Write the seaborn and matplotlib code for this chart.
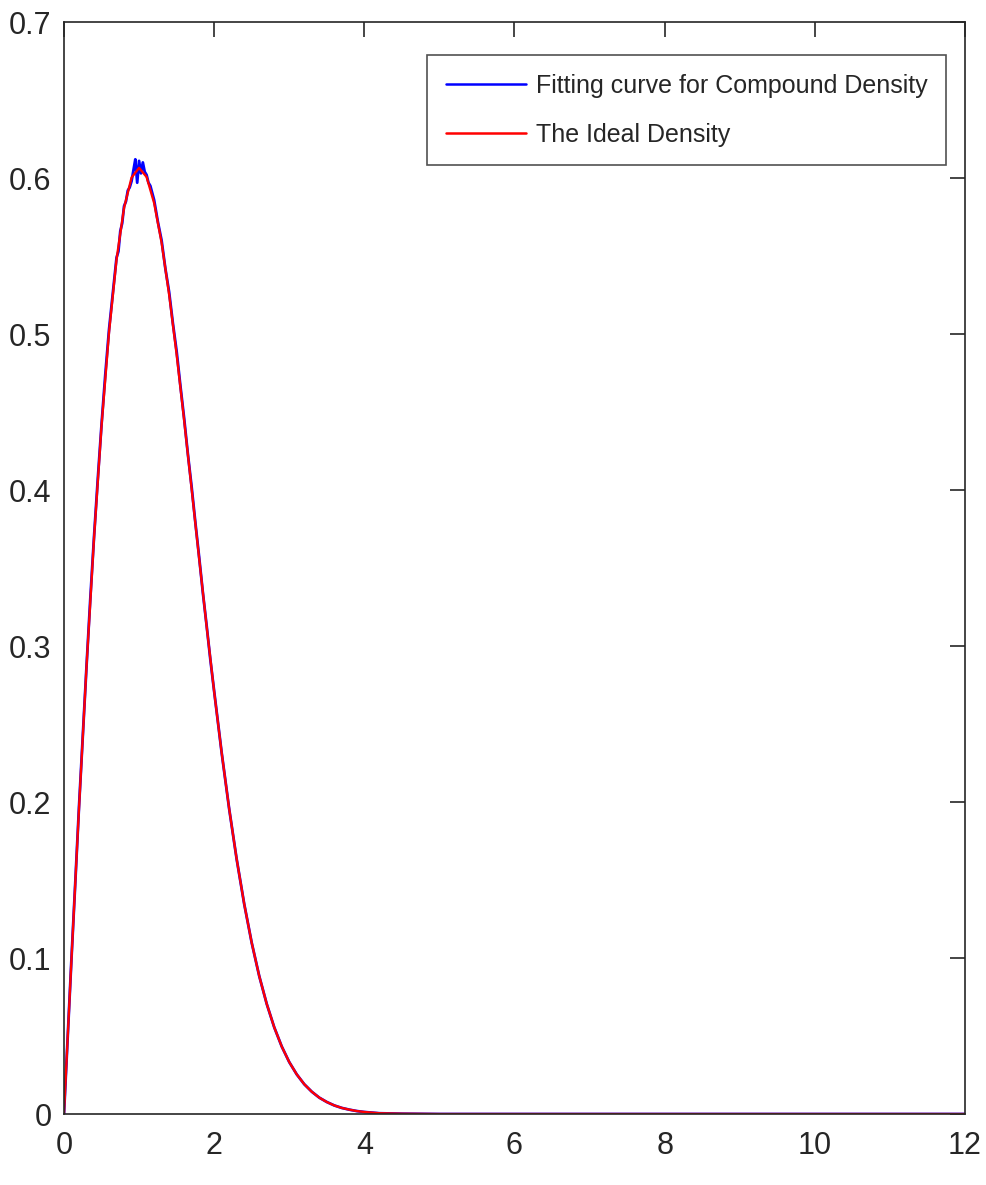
import matplotlib
matplotlib.use("Agg")
import matplotlib.pyplot as plt
import seaborn as sns
import pandas as pd

# Ideal density
ideal_x = [0.0, 0.1, 0.2, 0.3, 0.4, 0.5, 0.6, 0.7, 0.8, 0.9, 1.0, 1.1, 1.2, 1.3, 1.4,
           1.5, 1.6, 1.7, 1.8, 1.9, 2.0, 2.1, 2.2, 2.3, 2.4, 2.5, 2.6, 2.7, 2.8, 2.9,
           3.0, 3.1, 3.2, 3.3, 3.4, 3.5, 3.6, 3.7, 3.8, 3.9, 4.0, 4.2, 4.5, 5.0, 6.0,
           8.0, 10.0, 12.0]
ideal_y = [0.0, 0.0995, 0.196, 0.2868, 0.3692, 0.4412, 0.5012, 0.5479, 0.5809, 0.6003,
           0.6065, 0.6007, 0.5841, 0.5585, 0.5254, 0.487, 0.4448, 0.4007, 0.3562, 0.3125,
           0.2707, 0.2316, 0.1956, 0.1633, 0.1347, 0.1098, 0.0885, 0.0706, 0.0556, 0.0433,
           0.0333, 0.0254, 0.0191, 0.0143, 0.0105, 0.0077, 0.0055, 0.0039, 0.0028, 0.0019,
           0.0013, 0.0005, 0.0002, 0.0, 0.0, 0.0, 0.0, 0.0]

# Fitting curve (noisy near the peak)
fit_x = [0.0, 0.05, 0.1, 0.15, 0.2, 0.25, 0.3, 0.35, 0.4, 0.45, 0.5, 0.55, 0.6, 0.65,
         0.7, 0.725, 0.75, 0.775, 0.8, 0.825, 0.85, 0.875, 0.9, 0.925, 0.95, 0.975,
         1.0, 1.025, 1.05, 1.075, 1.1, 1.125, 1.15, 1.2, 1.25, 1.3, 1.35, 1.4, 1.45,
         1.5, 1.55, 1.6, 1.65, 1.7, 1.75, 1.8, 1.85, 1.9, 1.95, 2.0, 2.1, 2.2, 2.3, 2.4,
         2.5, 2.6, 2.7, 2.8, 2.9, 3.0, 3.1, 3.2, 3.3, 3.4, 3.5, 3.6, 3.7, 3.8, 3.9,
         4.0, 4.2, 4.5, 5.0, 6.0, 8.0, 10.0, 12.0]
fit_y = [0.0, 0.05, 0.1, 0.148, 0.197, 0.242, 0.287, 0.33, 0.37, 0.407, 0.442, 0.474,
         0.503, 0.526, 0.549, 0.553, 0.566, 0.571, 0.582, 0.585, 0.592, 0.594, 0.598,
         0.605, 0.612, 0.597, 0.611, 0.603, 0.61, 0.604, 0.602, 0.597, 0.595, 0.586,
         0.572, 0.56, 0.542, 0.527, 0.507, 0.489, 0.467, 0.446, 0.423, 0.402, 0.379,
         0.357, 0.334, 0.313, 0.291, 0.271, 0.2316, 0.1956, 0.1633, 0.1347, 0.1098,
         0.0885, 0.0706, 0.0556, 0.0433, 0.0333, 0.0254, 0.0191, 0.0143, 0.0105,
         0.0077, 0.0055, 0.0039, 0.0028, 0.0019, 0.0013, 0.0005, 0.0002, 0.0, 0.0,
         0.0, 0.0, 0.0]

labels = ["Fitting curve for Compound Density", "The Ideal Density"]
x_ticks = [0, 2, 4, 6, 8, 10, 12]
y_ticks = [0, 0.1, 0.2, 0.3, 0.4, 0.5, 0.6, 0.7]

sns.set_theme(style="white")
plt.rcParams["font.family"] = ["Liberation Sans", "DejaVu Sans"]
plt.rcParams["xtick.direction"] = "in"
plt.rcParams["ytick.direction"] = "in"

fig = plt.figure(figsize=(9.86, 11.85), dpi=100)
ax = fig.add_axes([0.0649, 0.0599, 0.9138, 0.9215])

df_fit = pd.DataFrame({"x": fit_x, "y": fit_y})
df_ideal = pd.DataFrame({"x": ideal_x, "y": ideal_y})
sns.lineplot(data=df_fit, x="x", y="y", ax=ax, color="#0000ff", lw=2.0,
             label=labels[0], estimator=None, sort=False)
sns.lineplot(data=df_ideal, x="x", y="y", ax=ax, color="#ff0000", lw=1.7,
             label=labels[1], estimator=None, sort=False)

ax.set_xlim(0, 12)
ax.set_ylim(0, 0.7)
ax.set_xticks(x_ticks)
ax.set_yticks(y_ticks)
ax.set_xticklabels([str(t) for t in x_ticks])
ax.set_yticklabels(["0"] + [f"{t:.1f}" for t in y_ticks[1:]])
ax.set_xlabel("")
ax.set_ylabel("")
ax.tick_params(axis="both", which="both", direction="in", length=11, width=1.2,
               colors="#262626", labelsize=22, top=True, right=True,
               labelcolor="#262626")
ax.tick_params(axis="y", pad=9)
ax.tick_params(axis="x", pad=12)
for s in ax.spines.values():
    s.set_visible(True)
    s.set_color("#262626")
    s.set_linewidth(1.2)

leg = ax.legend(loc="upper right", bbox_to_anchor=(0.979, 0.970), fontsize=18,
                frameon=True, fancybox=False, edgecolor="#262626",
                handlelength=3.2, handletextpad=0.4, borderpad=0.75,
                labelspacing=1.0, borderaxespad=0)
leg.get_frame().set_linewidth(1.2)
for ln in leg.get_lines():
    ln.set_linewidth(1.8)

fig.savefig("out.png", dpi=100)
